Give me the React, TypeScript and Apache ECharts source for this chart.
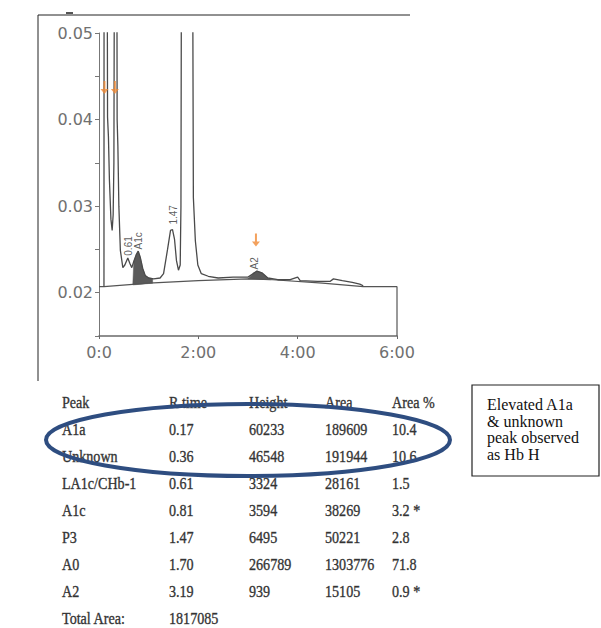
import React, { useEffect, useRef } from "react";
import * as echarts from "echarts";

// ---------- chart data ----------
const X_TICKS = [0, 2, 4, 6];
const X_TICK_LABELS = ["0:0", "2:00", "4:00", "6:00"];

// chromatogram trace [time (min), absorbance]
const SIGNAL: [number, number][] = [
  [0.1, 0.0207], [0.102, 0.06], [0.13, 0.08], [0.165, 0.06], [0.172, 0.0403],
  [0.19, 0.038], [0.21, 0.033], [0.24, 0.0285], [0.265, 0.0272], [0.285, 0.029],
  [0.3, 0.035], [0.31, 0.06], [0.34, 0.08], [0.36, 0.06], [0.365, 0.04],
  [0.38, 0.037], [0.4, 0.03], [0.43, 0.0249], [0.48, 0.0229], [0.52, 0.0232],
  [0.58, 0.024], [0.62, 0.0234], [0.66, 0.0229], [0.7, 0.0236], [0.75, 0.0244],
  [0.79, 0.0248], [0.83, 0.0241], [0.88, 0.0228], [0.93, 0.022], [1.0, 0.0217],
  [1.1, 0.0216], [1.23, 0.0217], [1.3, 0.0222], [1.38, 0.025], [1.44, 0.0272],
  [1.48, 0.0273], [1.52, 0.0262], [1.56, 0.0237], [1.6, 0.0226], [1.635, 0.0232],
  [1.65, 0.03], [1.66, 0.06], [1.77, 0.09], [1.885, 0.06], [1.9, 0.031],
  [1.94, 0.026], [1.99, 0.0232], [2.06, 0.0222], [2.2, 0.0219], [2.4, 0.0217],
  [2.7, 0.0218], [3.0, 0.0218], [3.1, 0.0222], [3.18, 0.0225], [3.28, 0.0223],
  [3.4, 0.0217], [3.6, 0.0215], [3.85, 0.0215], [4.0, 0.0218], [4.05, 0.0214],
  [4.4, 0.0213], [4.65, 0.0213], [4.72, 0.0216], [4.9, 0.0214], [5.1, 0.0212],
  [5.25, 0.021], [5.32, 0.0208],
];

// integration baseline and instrument box
const BASELINE: [number, number][] = [
  [0, 0.0207], [0.1, 0.0207], [1.0, 0.0211], [2.0, 0.0214], [3.0, 0.0216],
  [3.5, 0.0215], [4.5, 0.0211], [5.32, 0.0207], [6, 0.0207], [6, 0.015],
];

// shaded integrated peaks
const A1C_FILL: [number, number][] = [
  [0.68, 0.0209], [0.7, 0.0236], [0.75, 0.0244], [0.79, 0.0248], [0.83, 0.0241],
  [0.88, 0.0228], [0.93, 0.022], [1.0, 0.0217], [1.08, 0.0216], [1.08, 0.0211],
];
const A2_FILL: [number, number][] = [
  [3.0, 0.0216], [3.1, 0.0222], [3.18, 0.0225], [3.28, 0.0223], [3.4, 0.0217],
  [3.45, 0.0215],
];

const ARROWS: [number, number][] = [[0.11, 0.0437], [0.32, 0.0437], [3.16, 0.0261]];

const PEAK_LABELS = [
  { name: "0.61", value: [0.584, 0.0254] },
  { name: "A1c", value: [0.805, 0.026] },
  { name: "1.47", value: [1.49, 0.029] },
  { name: "A2", value: [3.14, 0.0234] },
];

// ---------- table data ----------
const TABLE_HEADER = ["Peak", "R time", "Height", "Area", "Area %"];
const TABLE_ROWS = [
  ["A1a", "0.17", "60233", "189609", "10.4"],
  ["Unknown", "0.36", "46548", "191944", "10.6"],
  ["LA1c/CHb-1", "0.61", "3324", "28161", "1.5"],
  ["A1c", "0.81", "3594", "38269", "3.2 *"],
  ["P3", "1.47", "6495", "50221", "2.8"],
  ["A0", "1.70", "266789", "1303776", "71.8"],
  ["A2", "3.19", "939", "15105", "0.9 *"],
  ["Total Area:", "1817085", "", "", ""],
];
const NOTE_LINES = ["Elevated A1a", "& unknown", "peak observed", "as Hb H"];

// ---------- layout ----------
const TABLE_COL_X = [62, 169, 249, 325, 392];
const TABLE_Y0 = 401.7;
const TABLE_DY = 27.07;

const ARROW_PATH = "path://M3,0 L5,0 L5,8 L8,8 L4,13 L0,8 L3,8 Z";

function polygonSeries(points: [number, number][]) {
  return {
    type: "custom",
    coordinateSystem: "cartesian2d",
    data: points,
    z: 2,
    silent: true,
    renderItem: (params: any, api: any) => {
      if (params.dataIndex !== 0) return null;
      return {
        type: "polygon",
        shape: { points: points.map((p) => api.coord(p)) },
        style: { fill: "#5a5a5a", stroke: "#5a5a5a", lineWidth: 0.5 },
      };
    },
  };
}

export default function App() {
  const ref = useRef<HTMLDivElement>(null);

  useEffect(() => {
    if (!ref.current) return;
    const chart = echarts.init(ref.current, undefined, { renderer: "svg" });

    const tableFont = { fontFamily: '"Liberation Serif", serif', fontSize: 17 };
    const graphics: any[] = [];

    // image frame
    graphics.push({ type: "line", shape: { x1: 38, y1: 15, x2: 410, y2: 15 }, style: { stroke: "#222", lineWidth: 1 } });
    graphics.push({ type: "line", shape: { x1: 38, y1: 15, x2: 38, y2: 381 }, style: { stroke: "#222", lineWidth: 1 } });
    graphics.push({ type: "line", shape: { x1: 66, y1: 13, x2: 73, y2: 13 }, style: { stroke: "#555", lineWidth: 2 } });

    // table
    const allRows = [TABLE_HEADER, ...TABLE_ROWS];
    allRows.forEach((row, ri) => {
      row.forEach((cell, ci) => {
        if (!cell) return;
        graphics.push({
          type: "text",
          x: TABLE_COL_X[ci],
          y: TABLE_Y0 + ri * TABLE_DY,
          scaleX: 0.83,
          z: 10,
          style: {
            text: cell,
            ...tableFont,
            fill: "#333",
            stroke: "#555",
            lineWidth: 0.4,
            align: "left",
            verticalAlign: "middle",
          },
        });
      });
    });

    // ellipse highlight
    graphics.push({
      type: "ellipse",
      z: 20,
      shape: { cx: 248, cy: 440, rx: 202, ry: 36 },
      style: { fill: "none", stroke: "#2e4d80", lineWidth: 4 },
    });

    // note box
    graphics.push({
      type: "rect",
      z: 10,
      shape: { x: 472, y: 385, width: 127, height: 91 },
      style: { fill: "#fff", stroke: "#222", lineWidth: 1.2 },
    });
    NOTE_LINES.forEach((line, i) => {
      graphics.push({
        type: "text",
        z: 11,
        x: 487,
        y: 404.3 + i * 16.7,
        style: {
          text: line,
          fontFamily: '"Liberation Serif", serif',
          fontSize: 16,
          fill: "#111",
          align: "left",
          verticalAlign: "middle",
        },
      });
    });

    chart.setOption({
      animation: false,
      backgroundColor: "#fff",
      grid: { left: 99, right: 204, top: 33, bottom: 292, containLabel: false },
      xAxis: {
        type: "value",
        min: 0,
        max: 6,
        interval: 2,
        axisLine: { show: true, onZero: false, lineStyle: { color: "#6a6a6a", width: 1.5 } },
        axisTick: { show: true, length: 3, lineStyle: { color: "#6a6a6a" } },
        splitLine: { show: false },
        axisLabel: {
          margin: 8,
          fontFamily: '"DejaVu Sans", sans-serif',
          fontSize: 16,
          color: "#707070",
          formatter: (v: number) => {
            const i = X_TICKS.indexOf(Math.round(v));
            return i >= 0 ? X_TICK_LABELS[i] : "";
          },
        },
      },
      yAxis: {
        type: "value",
        min: 0.015,
        max: 0.05,
        interval: 0.005,
        axisLine: { show: true, lineStyle: { color: "#777", width: 1 } },
        axisTick: { show: true, length: 4, lineStyle: { color: "#777" } },
        splitLine: { show: false },
        axisLabel: {
          margin: 6,
          fontFamily: '"DejaVu Sans", sans-serif',
          fontSize: 16,
          color: "#707070",
          formatter: (v: number) => {
            const k = Math.round(v * 1000);
            return k % 10 === 0 ? (k / 1000).toFixed(2) : "";
          },
        },
      },
      series: [
        polygonSeries(A1C_FILL),
        polygonSeries(A2_FILL),
        {
          type: "line",
          data: BASELINE,
          showSymbol: false,
          silent: true,
          z: 3,
          lineStyle: { color: "#555", width: 1.2 },
        },
        {
          type: "line",
          data: SIGNAL,
          showSymbol: false,
          silent: true,
          clip: true,
          z: 4,
          lineStyle: { color: "#4a4a4a", width: 1.3 },
        },
        {
          type: "scatter",
          data: PEAK_LABELS,
          symbolSize: 1,
          silent: true,
          z: 5,
          itemStyle: { color: "rgba(0,0,0,0)" },
          label: {
            show: true,
            position: "inside",
            rotate: 90,
            formatter: (p: any) => p.name,
            fontFamily: '"Liberation Sans Narrow", "Liberation Sans", sans-serif',
            fontSize: 10,
            color: "#333",
          },
        },
        {
          type: "scatter",
          data: ARROWS,
          symbol: ARROW_PATH,
          symbolSize: [8, 13],
          silent: true,
          z: 6,
          itemStyle: { color: "#f08a35" },
        },
      ],
      graphic: graphics,
    });

    return () => chart.dispose();
  }, []);

  return (
    <div
      ref={ref}
      style={{ position: "absolute", left: 0, top: 0, width: 601, height: 628, background: "#fff" }}
    />
  );
}
